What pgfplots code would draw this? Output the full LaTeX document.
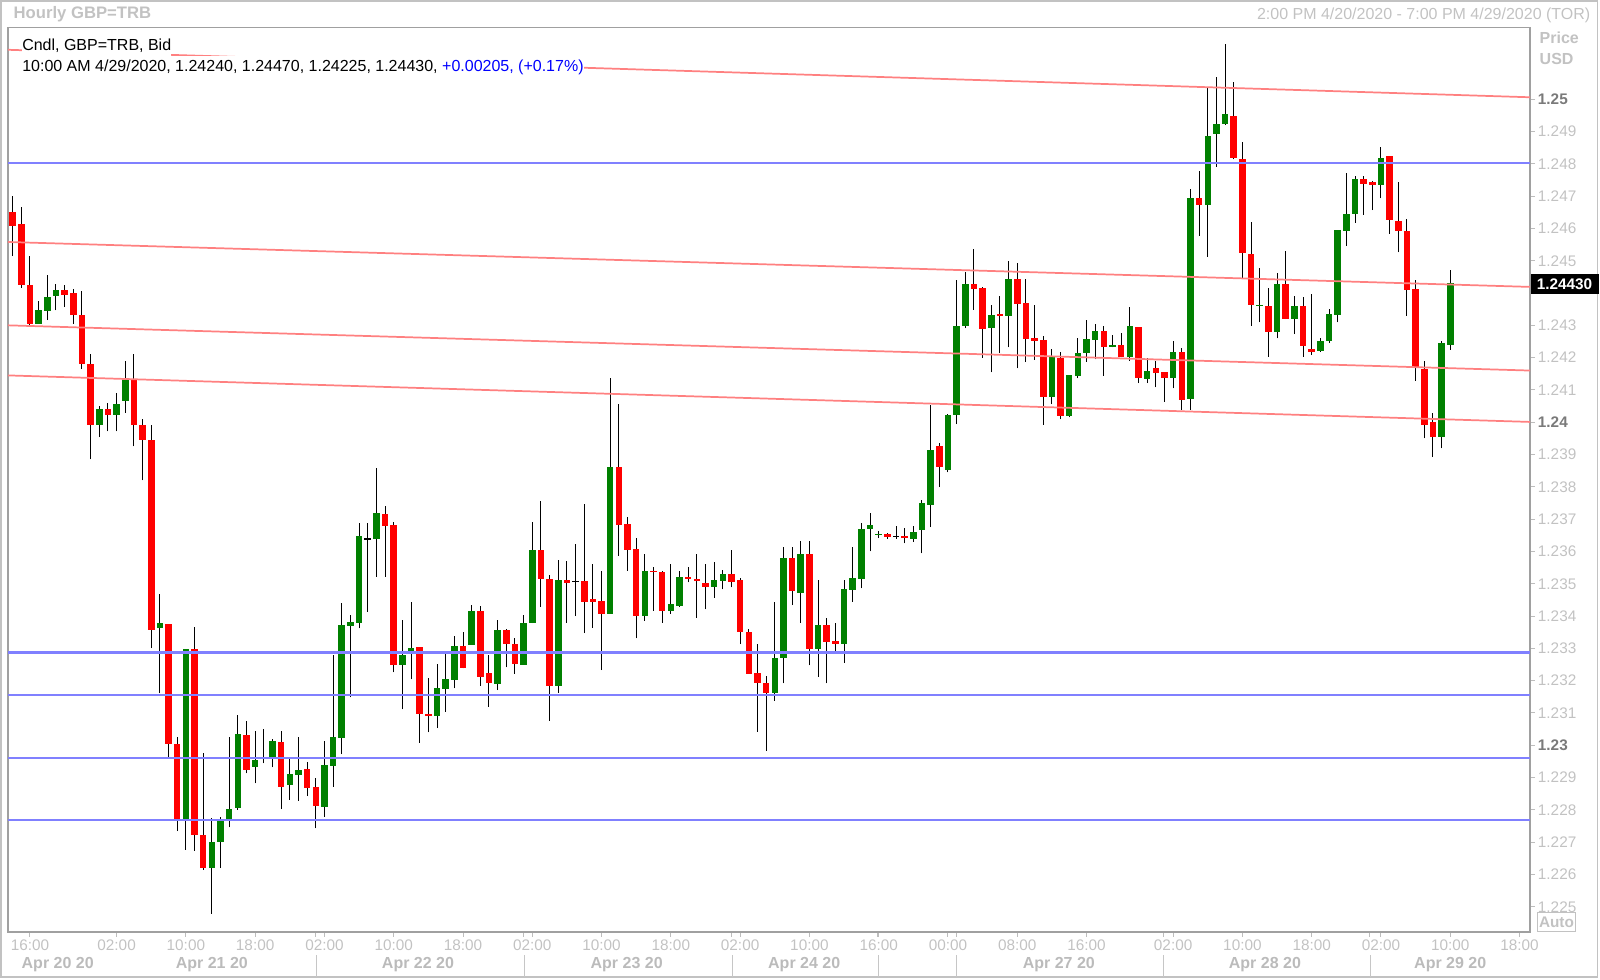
\documentclass[border=0pt]{standalone}
\usepackage{fontspec}
\setmainfont{Liberation Sans}
\usepackage{pgfplots}
\usepackage{pgfplotstable}
\pgfplotsset{compat=1.18}

\definecolor{cup}{HTML}{008000}
\definecolor{cdn}{HTML}{FF0000}
\definecolor{trend}{HTML}{FF8080}
\definecolor{level}{HTML}{8080FF}
\definecolor{framegray}{HTML}{A0A0A0}
\definecolor{labgray}{HTML}{C2C2C2}
\definecolor{majgray}{HTML}{7A7A7A}
\definecolor{dategray}{HTML}{BBBBBB}
\definecolor{legblue}{HTML}{0000FF}

\newcommand{\maj}[1]{\textcolor{majgray}{\bfseries #1}}

% hourly candles: index, open, high, low, close
\pgfplotstableread{
x o h l c
3 1.24305 1.24375 1.24305 1.24348
4 1.24346 1.24455 1.24316 1.24389
5 1.24391 1.24429 1.24346 1.24410
10 1.23993 1.24049 1.23954 1.24042
12 1.24024 1.24090 1.23972 1.24059
13 1.24067 1.24189 1.24030 1.24135
17 1.23365 1.23467 1.23161 1.23380
20 1.22771 1.23299 1.22676 1.23299
23 1.22620 1.22775 1.22478 1.22702
24 1.22702 1.22778 1.22620 1.22766
25 1.22771 1.23026 1.22746 1.22803
26 1.22807 1.23094 1.22800 1.23034
28 1.22932 1.23044 1.22882 1.22955
30 1.22963 1.23020 1.22932 1.23013
32 1.22879 1.22957 1.22831 1.22911
33 1.22908 1.23027 1.22829 1.22926
36 1.22808 1.23013 1.22779 1.22941
37 1.22937 1.23280 1.22872 1.23027
38 1.23024 1.23440 1.22973 1.23373
39 1.23371 1.23403 1.23148 1.23383
40 1.23380 1.23689 1.23362 1.23648
42 1.23640 1.23858 1.23522 1.23718
45 1.23251 1.23388 1.23111 1.23282
46 1.23292 1.23444 1.23204 1.23300
49 1.23092 1.23252 1.23053 1.23178
50 1.23176 1.23285 1.23104 1.23205
51 1.23202 1.23338 1.23176 1.23307
53 1.23312 1.23434 1.23311 1.23415
56 1.23192 1.23388 1.23171 1.23359
59 1.23251 1.23402 1.23249 1.23379
60 1.23378 1.23690 1.23378 1.23604
63 1.23184 1.23574 1.23163 1.23512
69 1.23407 1.24136 1.23407 1.23863
73 1.23400 1.23591 1.23386 1.23541
76 1.23417 1.23561 1.23407 1.23438
77 1.23434 1.23541 1.23429 1.23523
81 1.23491 1.23567 1.23457 1.23512
82 1.23510 1.23542 1.23483 1.23532
88 1.23163 1.23445 1.23138 1.23271
89 1.23271 1.23613 1.23192 1.23582
91 1.23473 1.23633 1.23380 1.23592
93 1.23300 1.23512 1.23212 1.23372
96 1.23313 1.23512 1.23256 1.23483
97 1.23481 1.23613 1.23445 1.23519
98 1.23517 1.23689 1.23486 1.23671
99 1.23669 1.23718 1.23600 1.23682
100 1.23652 1.23664 1.23641 1.23656
104 1.23639 1.23679 1.23630 1.23661
105 1.23667 1.23759 1.23594 1.23751
106 1.23746 1.24052 1.23675 1.23916
108 1.23854 1.24026 1.23845 1.24023
109 1.24021 1.24441 1.23994 1.24298
110 1.24298 1.24464 1.24291 1.24429
113 1.24294 1.24363 1.24154 1.24335
115 1.24329 1.24499 1.24232 1.24444
120 1.24079 1.24226 1.24056 1.24201
122 1.24021 1.24147 1.24015 1.24147
123 1.24144 1.24260 1.24136 1.24216
124 1.24216 1.24317 1.24188 1.24260
125 1.24255 1.24304 1.24195 1.24284
127 1.24234 1.24270 1.24232 1.24240
129 1.24203 1.24356 1.24190 1.24296
131 1.24136 1.24200 1.24121 1.24160
134 1.24139 1.24252 1.24105 1.24219
136 1.24071 1.24721 1.24038 1.24693
138 1.24673 1.25039 1.24513 1.24887
139 1.24895 1.25068 1.24791 1.24924
140 1.24924 1.25171 1.24920 1.24954
144 1.24360 1.24479 1.24309 1.24365
146 1.24281 1.24463 1.24260 1.24428
148 1.24319 1.24391 1.24273 1.24360
151 1.24219 1.24260 1.24217 1.24252
152 1.24250 1.24350 1.24245 1.24334
153 1.24334 1.24595 1.24309 1.24595
154 1.24593 1.24773 1.24547 1.24644
155 1.24644 1.24761 1.24618 1.24752
158 1.24735 1.24853 1.24693 1.24817
165 1.23956 1.24252 1.23919 1.24245
166 1.24240 1.24470 1.24225 1.24430
}\up

\pgfplotstableread{
x o h l c
0 1.24651 1.24699 1.24514 1.24607
1 1.24614 1.24666 1.24417 1.24426
2 1.24426 1.24514 1.24297 1.24305
6 1.24410 1.24426 1.24356 1.24395
7 1.24400 1.24414 1.24305 1.24331
8 1.24331 1.24405 1.24166 1.24180
9 1.24180 1.24210 1.23885 1.23993
11 1.24042 1.24059 1.23972 1.24023
14 1.24135 1.24210 1.23925 1.23993
15 1.23993 1.24010 1.23820 1.23945
16 1.23945 1.23993 1.23301 1.23358
18 1.23374 1.23374 1.22965 1.23004
19 1.23004 1.23026 1.22734 1.22771
21 1.23299 1.23365 1.22673 1.22722
22 1.22722 1.22975 1.22614 1.22620
27 1.23034 1.23075 1.22913 1.22924
31 1.23010 1.23044 1.22802 1.22872
34 1.22926 1.22948 1.22843 1.22867
35 1.22870 1.22898 1.22743 1.22813
43 1.23718 1.23742 1.23522 1.23680
44 1.23683 1.23692 1.23226 1.23247
47 1.23303 1.23303 1.23008 1.23097
48 1.23099 1.23209 1.23040 1.23091
52 1.23307 1.23352 1.23238 1.23241
54 1.23417 1.23431 1.23185 1.23213
55 1.23223 1.23280 1.23120 1.23192
57 1.23359 1.23359 1.23241 1.23313
58 1.23314 1.23331 1.23221 1.23251
61 1.23604 1.23756 1.23429 1.23516
62 1.23517 1.23527 1.23076 1.23187
64 1.23512 1.23569 1.23380 1.23502
66 1.23509 1.23747 1.23347 1.23445
67 1.23453 1.23561 1.23364 1.23445
68 1.23448 1.23541 1.23233 1.23407
70 1.23863 1.24057 1.23586 1.23682
71 1.23687 1.23706 1.23540 1.23604
72 1.23607 1.23641 1.23331 1.23400
74 1.23542 1.23553 1.23417 1.23537
75 1.23538 1.23538 1.23380 1.23417
78 1.23523 1.23553 1.23504 1.23515
79 1.23517 1.23592 1.23395 1.23510
80 1.23504 1.23561 1.23421 1.23491
83 1.23532 1.23603 1.23489 1.23507
84 1.23512 1.23517 1.23313 1.23352
85 1.23352 1.23359 1.23221 1.23221
86 1.23223 1.23313 1.23042 1.23192
87 1.23194 1.23215 1.22983 1.23163
90 1.23582 1.23613 1.23434 1.23478
92 1.23592 1.23633 1.23247 1.23300
94 1.23372 1.23393 1.23192 1.23321
95 1.23322 1.23380 1.23290 1.23313
101 1.23656 1.23658 1.23639 1.23646
103 1.23649 1.23672 1.23625 1.23641
107 1.23928 1.23937 1.23799 1.23860
111 1.24429 1.24536 1.24348 1.24412
112 1.24415 1.24420 1.24200 1.24289
114 1.24335 1.24391 1.24214 1.24329
116 1.24444 1.24494 1.24167 1.24368
117 1.24370 1.24444 1.24186 1.24259
118 1.24262 1.24363 1.24193 1.24253
119 1.24255 1.24267 1.23992 1.24079
121 1.24198 1.24216 1.24009 1.24021
126 1.24284 1.24299 1.24144 1.24234
128 1.24240 1.24276 1.24201 1.24203
130 1.24296 1.24296 1.24121 1.24136
132 1.24169 1.24190 1.24108 1.24154
133 1.24155 1.24155 1.24064 1.24136
135 1.24219 1.24229 1.24038 1.24071
137 1.24693 1.24779 1.24577 1.24673
141 1.24948 1.25053 1.24814 1.24817
142 1.24817 1.24867 1.24446 1.24525
143 1.24520 1.24619 1.24298 1.24363
145 1.24360 1.24415 1.24203 1.24281
147 1.24428 1.24530 1.24319 1.24319
149 1.24360 1.24389 1.24203 1.24239
150 1.24226 1.24396 1.24208 1.24219
156 1.24752 1.24761 1.24642 1.24737
157 1.24744 1.24748 1.24657 1.24734
159 1.24825 1.24825 1.24583 1.24628
160 1.24623 1.24743 1.24526 1.24593
161 1.24593 1.24628 1.24330 1.24410
162 1.24412 1.24441 1.24129 1.24170
163 1.24167 1.24190 1.23950 1.23992
164 1.24002 1.24030 1.23892 1.23956
}\down

\pgfplotstableread{
x o h l c
29 1.22960 1.23049 1.22944 1.22960
41 1.23640 1.23689 1.23414 1.23640
65 1.23509 1.23623 1.23400 1.23509
102 1.23648 1.23679 1.23639 1.23648
}\doji

\pgfplotsset{
  wick/.style={draw=none, no markers, forget plot,
    error bars/.cd, y dir=plus, y explicit, error mark=none,
    error bar style={draw=black, line width=0.75pt}},
  body/.style={draw=none, no markers, forget plot,
    error bars/.cd, y dir=both, y explicit, error mark=none,
    error bar style={draw=#1, line width=4.9pt}},
}

\begin{document}
\begin{tikzpicture}
\begin{axis}[
  scale only axis, width=1141.5pt, height=678.375pt,
  xmin=-0.54, xmax=175.21, ymin=1.22422, ymax=1.25222,
  clip=false,
  axis line style={draw=framegray, line width=1.1pt},
  xtick pos=left, ytick pos=right, yticklabel pos=right,
  tick align=outside,
  major tick length=3.75pt, minor tick length=3.75pt,
  every tick/.style={draw=framegray!70, line width=0.75pt},
  scaled y ticks=false,
  xtick={2,12,20,28,36,44,52,60,68,76,84,92,100,108,116,124,134,142,150,158,166,174},
  xticklabels={16:00,02:00,10:00,18:00,02:00,10:00,18:00,02:00,10:00,18:00,02:00,10:00,16:00,00:00,08:00,16:00,02:00,10:00,18:00,02:00,10:00,18:00},
  minor xtick={35.02,59.04,83.06,99.92,108.93,132.83,156.73},
  ytick={1.225,1.226,1.227,1.228,1.229,1.230,1.231,1.232,1.233,1.234,1.235,1.236,1.237,1.238,1.239,1.240,1.241,1.242,1.243,1.244,1.245,1.246,1.247,1.248,1.249,1.250},
  yticklabels={1.225,1.226,1.227,1.228,1.229,\maj{1.23},1.231,1.232,1.233,1.234,1.235,1.236,1.237,1.238,1.239,\maj{1.24},1.241,1.242,1.243,{},1.245,1.246,1.247,1.248,1.249,\maj{1.25}},
  tick label style={font=\fontsize{11.5}{12}\selectfont, text=labgray},
  y tick label style={anchor=west, inner sep=0pt, xshift=2pt},
  x tick label style={anchor=north, inner sep=0pt, yshift=-2pt},
  extra x ticks={5.2,23.0,46.8,70.9,91.4,120.8,144.6,166.0},
  extra x tick labels={Apr 20 20,Apr 21 20,Apr 22 20,Apr 23 20,Apr 24 20,Apr 27 20,Apr 28 20,Apr 29 20},
  extra x tick style={major tick length=0pt,
    x tick label style={yshift=-17pt, font=\fontsize{12}{13}\selectfont\bfseries, text=dategray}},
]
% wicks
\addplot[wick] table[x=x, y=l, y error expr=\thisrow{h}-\thisrow{l}] {\up};
\addplot[wick] table[x=x, y=l, y error expr=\thisrow{h}-\thisrow{l}] {\down};
\addplot[wick] table[x=x, y=l, y error expr=\thisrow{h}-\thisrow{l}] {\doji};
% bodies
\addplot[body=cup] table[x=x, y expr=(\thisrow{o}+\thisrow{c})/2,
  y error expr={max(abs(\thisrow{c}-\thisrow{o})/2,0.00002)}] {\up};
\addplot[body=cdn] table[x=x, y expr=(\thisrow{o}+\thisrow{c})/2,
  y error expr={max(abs(\thisrow{c}-\thisrow{o})/2,0.00002)}] {\down};
\addplot[body=black] table[x=x, y expr=(\thisrow{o}+\thisrow{c})/2,
  y error expr=0.00002] {\doji};

% support / resistance levels
\addplot[level, line width=1.8pt, forget plot] coordinates {(-0.54,1.24802) (175.21,1.24802)};
\addplot[level, line width=1.8pt, forget plot] coordinates {(-0.54,1.23287) (175.21,1.23287)};
\addplot[level, line width=1.8pt, forget plot] coordinates {(-0.54,1.23155) (175.21,1.23155)};
\addplot[level, line width=1.8pt, forget plot] coordinates {(-0.54,1.22961) (175.21,1.22961)};
\addplot[level, line width=1.8pt, forget plot] coordinates {(-0.54,1.22768) (175.21,1.22768)};
% trend channel
\addplot[trend, line width=1.3pt, forget plot] coordinates {(-0.54,1.25153) (175.21,1.25006)};
\addplot[trend, line width=1.3pt, forget plot] coordinates {(-0.54,1.24558) (175.21,1.24419)};
\addplot[trend, line width=1.3pt, forget plot] coordinates {(-0.54,1.24300) (175.21,1.24160)};
\addplot[trend, line width=1.3pt, forget plot] coordinates {(-0.54,1.24145) (175.21,1.24001)};

\coordinate (O) at (rel axis cs:0,1);
\end{axis}

% overlay in screen pixels (origin = top-left of image)
\begin{scope}[shift={(O)}]
\begin{scope}[x=0.75pt, y=-0.75pt, shift={(-8,-27.5)}]
  \pgfresetboundingbox
  \path[use as bounding box] (0,0) rectangle (1600,979);
  \draw[labgray, line width=1.1pt] (1,1) rectangle (1597.5,977);
  \foreach \s in {316,524,732,878,956,1163,1370}
    \draw[framegray!60, line width=0.75pt] (\s,955) -- (\s,977);
  \node[anchor=west, text=labgray, font=\fontsize{12.5}{13}\selectfont\bfseries] at (9,14) {Hourly GBP=TRB};
  \node[anchor=east, text=labgray, font=\fontsize{12}{13}\selectfont] at (1595,15) {2:00 PM 4/20/2020 - 7:00 PM 4/29/2020 (TOR)};
  \node[anchor=west, fill=white, inner xsep=0pt, inner ysep=2.5pt, font=\fontsize{12}{13}\selectfont] at (22,46) {Cndl, GBP=TRB, Bid};
  \node[anchor=west, fill=white, inner xsep=0pt, inner ysep=2.5pt, font=\fontsize{12}{13}\selectfont] at (22,67)
    {10:00 AM 4/29/2020, 1.24240, 1.24470, 1.24225, 1.24430, \textcolor{legblue}{+0.00205, (+0.17\%)}};
  \node[anchor=west, text=labgray, font=\fontsize{12}{13}\selectfont\bfseries] at (1535,38) {Price};
  \node[anchor=west, text=labgray, font=\fontsize{12}{13}\selectfont\bfseries] at (1535,59) {USD};
  \node[fill=black, text=white, minimum width=51pt, minimum height=15pt, inner sep=0pt,
        font=\fontsize{11.5}{12}\selectfont\bfseries] at (1564.5,284) {1.24430};
  \node[draw=labgray, line width=0.75pt, text=labgray, minimum width=28.5pt, minimum height=14pt, inner sep=0pt,
        font=\fontsize{11.5}{12}\selectfont\bfseries] at (1556.5,922) {Auto};
\end{scope}
\end{scope}
\end{tikzpicture}
\end{document}
